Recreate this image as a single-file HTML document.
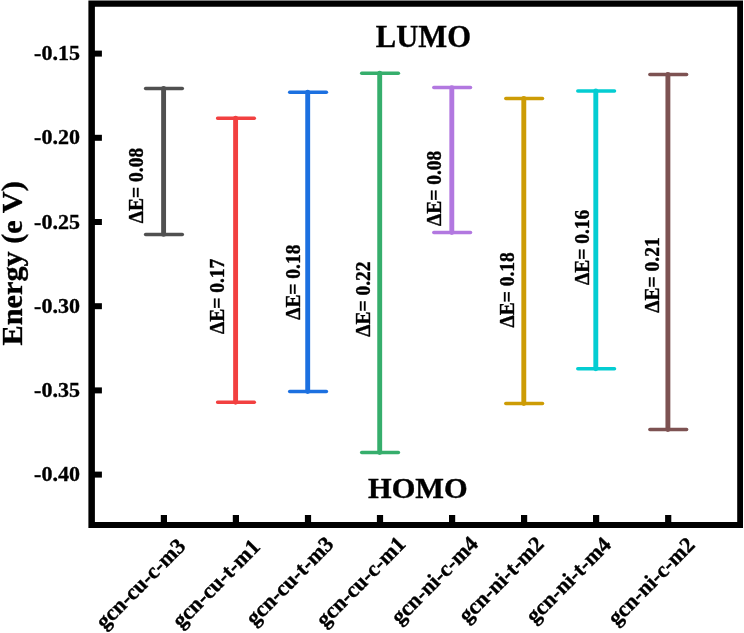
<!DOCTYPE html>
<html><head><meta charset="utf-8"><title>HOMO LUMO energy</title>
<style>
html,body{margin:0;padding:0;background:#fff;}
body{width:744px;height:633px;overflow:hidden;}
svg{display:block;}
text{font-family:"Liberation Serif",serif;font-weight:bold;fill:#000;stroke:#000;stroke-width:0.35;}
</style></head><body>
<svg width="744" height="633" viewBox="0 0 744 633">
<rect x="0" y="0" width="744" height="633" fill="#fff"/>
<path fill="#000" fill-rule="evenodd" d="M88.4 0.4H743V527.9H88.4Z M94.9 6.7V522H737.2V6.7Z"/>
<rect x="92" y="50.6" width="9.9" height="6" fill="#000"/>
<text x="79.9" y="60.2" font-size="22" text-anchor="end">-0.15</text>
<rect x="92" y="134.8" width="9.9" height="6" fill="#000"/>
<text x="79.9" y="144.4" font-size="22" text-anchor="end">-0.20</text>
<rect x="92" y="219.0" width="9.9" height="6" fill="#000"/>
<text x="79.9" y="228.6" font-size="22" text-anchor="end">-0.25</text>
<rect x="92" y="303.2" width="9.9" height="6" fill="#000"/>
<text x="79.9" y="312.8" font-size="22" text-anchor="end">-0.30</text>
<rect x="92" y="387.4" width="9.9" height="6" fill="#000"/>
<text x="79.9" y="397.0" font-size="22" text-anchor="end">-0.35</text>
<rect x="92" y="471.6" width="9.9" height="6" fill="#000"/>
<text x="79.9" y="481.2" font-size="22" text-anchor="end">-0.40</text>
<rect x="160.8" y="515" width="6.2" height="10" fill="#000"/>
<rect x="232.8" y="515" width="6.2" height="10" fill="#000"/>
<rect x="304.9" y="515" width="6.2" height="10" fill="#000"/>
<rect x="376.9" y="515" width="6.2" height="10" fill="#000"/>
<rect x="449.0" y="515" width="6.2" height="10" fill="#000"/>
<rect x="521.0" y="515" width="6.2" height="10" fill="#000"/>
<rect x="593.0" y="515" width="6.2" height="10" fill="#000"/>
<rect x="665.1" y="515" width="6.2" height="10" fill="#000"/>
<g stroke="#505050" stroke-linecap="round" fill="none"><line x1="163.6" y1="88.5" x2="163.6" y2="234.4" stroke-width="4.9"/><line x1="145.6" y1="88.5" x2="182.3" y2="88.5" stroke-width="3.5"/><line x1="145.6" y1="234.4" x2="182.3" y2="234.4" stroke-width="3.5"/></g>
<text font-size="20.3" text-anchor="middle" textLength="75.3" lengthAdjust="spacingAndGlyphs" transform="translate(143.4,185.5) rotate(-90)">ΔE= 0.08</text>
<g stroke="#f24040" stroke-linecap="round" fill="none"><line x1="235.6" y1="118.3" x2="235.6" y2="402.3" stroke-width="4.9"/><line x1="217.6" y1="118.3" x2="254.3" y2="118.3" stroke-width="3.5"/><line x1="217.6" y1="402.3" x2="254.3" y2="402.3" stroke-width="3.5"/></g>
<text font-size="20.3" text-anchor="middle" textLength="75.3" lengthAdjust="spacingAndGlyphs" transform="translate(224.2,296.3) rotate(-90)">ΔE= 0.17</text>
<g stroke="#1c70e0" stroke-linecap="round" fill="none"><line x1="307.7" y1="92.2" x2="307.7" y2="391.6" stroke-width="4.9"/><line x1="289.7" y1="92.2" x2="326.4" y2="92.2" stroke-width="3.5"/><line x1="289.7" y1="391.6" x2="326.4" y2="391.6" stroke-width="3.5"/></g>
<text font-size="20.3" text-anchor="middle" textLength="75.3" lengthAdjust="spacingAndGlyphs" transform="translate(299.5,282.2) rotate(-90)">ΔE= 0.18</text>
<g stroke="#36ae6c" stroke-linecap="round" fill="none"><line x1="379.7" y1="73.2" x2="379.7" y2="452.5" stroke-width="4.9"/><line x1="361.7" y1="73.2" x2="398.4" y2="73.2" stroke-width="3.5"/><line x1="361.7" y1="452.5" x2="398.4" y2="452.5" stroke-width="3.5"/></g>
<text font-size="20.3" text-anchor="middle" textLength="75.3" lengthAdjust="spacingAndGlyphs" transform="translate(370.4,299.1) rotate(-90)">ΔE= 0.22</text>
<g stroke="#b278e0" stroke-linecap="round" fill="none"><line x1="451.8" y1="87.6" x2="451.8" y2="232.6" stroke-width="4.9"/><line x1="433.8" y1="87.6" x2="470.5" y2="87.6" stroke-width="3.5"/><line x1="433.8" y1="232.6" x2="470.5" y2="232.6" stroke-width="3.5"/></g>
<text font-size="20.3" text-anchor="middle" textLength="75.3" lengthAdjust="spacingAndGlyphs" transform="translate(440.8,188.4) rotate(-90)">ΔE= 0.08</text>
<g stroke="#cd9c05" stroke-linecap="round" fill="none"><line x1="523.8" y1="98.4" x2="523.8" y2="403.5" stroke-width="4.9"/><line x1="505.8" y1="98.4" x2="542.5" y2="98.4" stroke-width="3.5"/><line x1="505.8" y1="403.5" x2="542.5" y2="403.5" stroke-width="3.5"/></g>
<text font-size="20.3" text-anchor="middle" textLength="75.3" lengthAdjust="spacingAndGlyphs" transform="translate(513.6,289.9) rotate(-90)">ΔE= 0.18</text>
<g stroke="#04cdd2" stroke-linecap="round" fill="none"><line x1="595.8" y1="91.0" x2="595.8" y2="368.8" stroke-width="4.9"/><line x1="577.8" y1="91.0" x2="614.5" y2="91.0" stroke-width="3.5"/><line x1="577.8" y1="368.8" x2="614.5" y2="368.8" stroke-width="3.5"/></g>
<text font-size="20.3" text-anchor="middle" textLength="75.3" lengthAdjust="spacingAndGlyphs" transform="translate(588.9,247.4) rotate(-90)">ΔE= 0.16</text>
<g stroke="#7d5252" stroke-linecap="round" fill="none"><line x1="667.9" y1="74.5" x2="667.9" y2="429.6" stroke-width="4.9"/><line x1="649.9" y1="74.5" x2="686.6" y2="74.5" stroke-width="3.5"/><line x1="649.9" y1="429.6" x2="686.6" y2="429.6" stroke-width="3.5"/></g>
<text font-size="20.3" text-anchor="middle" textLength="75.3" lengthAdjust="spacingAndGlyphs" transform="translate(659.4,275.0) rotate(-90)">ΔE= 0.21</text>
<text font-size="22.1" stroke-width="0.5" text-anchor="end" transform="translate(186.7,547.4) rotate(-45.2)">gcn-cu-c-m3</text>
<text font-size="22.1" stroke-width="0.5" text-anchor="end" transform="translate(261.3,548.0) rotate(-45.2)">gcn-cu-t-m1</text>
<text font-size="22.1" stroke-width="0.5" text-anchor="end" transform="translate(334.9,545.4) rotate(-45.2)">gcn-cu-t-m3</text>
<text font-size="22.1" stroke-width="0.5" text-anchor="end" transform="translate(406.9,545.2) rotate(-45.2)">gcn-cu-c-m1</text>
<text font-size="22.1" stroke-width="0.5" text-anchor="end" transform="translate(479.2,545.2) rotate(-45.2)">gcn-ni-c-m4</text>
<text font-size="22.1" stroke-width="0.5" text-anchor="end" transform="translate(545.1,545.5) rotate(-45.2)">gcn-ni-t-m2</text>
<text font-size="22.1" stroke-width="0.5" text-anchor="end" transform="translate(612.3,545.9) rotate(-45.2)">gcn-ni-t-m4</text>
<text font-size="22.1" stroke-width="0.5" text-anchor="end" transform="translate(696.0,546.1) rotate(-45.2)">gcn-ni-c-m2</text>
<text x="423.4" y="47.4" font-size="30.6" text-anchor="middle">LUMO</text>
<text x="417.9" y="497.7" font-size="30.4" text-anchor="middle">HOMO</text>
<text font-size="30.3" text-anchor="middle" transform="translate(22,263.4) rotate(-90)">Energy (e V)</text>
</svg></body></html>
